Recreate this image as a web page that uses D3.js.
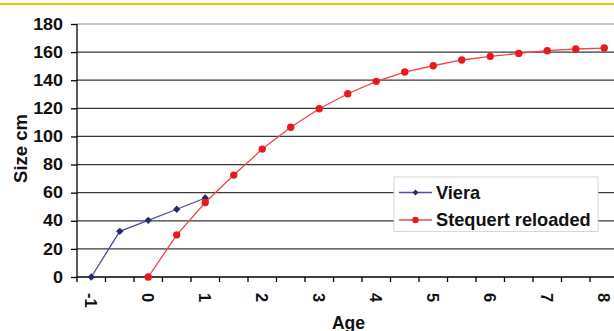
<!DOCTYPE html>
<html>
<head>
<meta charset="utf-8">
<script src="https://cdn.jsdelivr.net/npm/d3@7"></script>
<style>
  html, body { margin: 0; padding: 0; background: #fff; }
  svg { display: block; font-family: "Liberation Sans", Arial, sans-serif; }
</style>
</head>
<body>
<svg id="chart" width="614" height="331"></svg>
<script>
// ---- data ----
const categories = ["-1","-0.5","0","0.5","1","1.5","2","2.5","3","3.5","4","4.5","5","5.5","6","6.5","7","7.5","8"];
const xTickLabels = ["-1","0","1","2","3","4","5","6","7","8"];
const yTicks = [0,20,40,60,80,100,120,140,160,180];
const vieraAges = ["-1","-0.5","0","0.5","1"];
const vieraValues = [0, 32.5, 40.3, 48.2, 56.2];
const stequertAges = ["0","0.5","1","1.5","2","2.5","3","3.5","4","4.5","5","5.5","6","6.5","7","7.5","8"];
const stequertValues = [0, 30, 53, 72.5, 91, 106.5, 119.7, 130.4, 139.2, 145.8, 150.3, 154.4, 157, 159.1, 161, 162.2, 162.9];
const seriesNames = ["Viera", "Stequert reloaded"];

// ---- layout ----
const svg = d3.select("#chart");
const W = 614, H = 331;
const plotLeft = 77, plotTop = 24, plotBottom = 277;
const band = 28.5;

const x = d3.scaleBand().domain(categories).range([plotLeft, plotLeft + band * categories.length]).padding(0);
const y = d3.scaleLinear().domain([0, 180]).range([plotBottom, plotTop]);
const cx = c => x(c) + x.bandwidth() / 2;
const diamondType = d3.symbolDiamond2 || d3.symbolSquare;

// yellow top rule
svg.append("line").attr("x1", 0).attr("x2", W).attr("y1", 4).attr("y2", 4)
  .attr("stroke", "#f7c600").attr("stroke-width", 2);

// gridlines
svg.append("g").selectAll("line").data(yTicks.filter(d => d > 0)).join("line")
  .attr("x1", plotLeft).attr("x2", W)
  .attr("y1", d => y(d)).attr("y2", d => y(d))
  .attr("stroke", d => d === 180 ? "#b0b0b0" : "#3a3a3a")
  .attr("stroke-width", 1.3);

// y axis
const yAxis = svg.append("g").attr("transform", `translate(${plotLeft},0)`)
  .call(d3.axisLeft(y).tickValues(yTicks).tickSize(6).tickPadding(0));
yAxis.select(".domain").attr("stroke", "#000").attr("stroke-width", 1.3).attr("d", `M0,${plotTop}V${plotBottom}`);
yAxis.selectAll(".tick line").attr("stroke", "#000").attr("stroke-width", 1.3);
yAxis.selectAll(".tick text")
  .attr("x", null)
  .attr("transform", "translate(-14,0) scale(1.12,1)")
  .attr("font-size", 16).attr("font-weight", "bold").attr("fill", "#111")
  .attr("font-family", "Liberation Sans, Arial, sans-serif");

// x axis line + ticks at category boundaries
const xg = svg.append("g");
xg.append("line").attr("x1", plotLeft).attr("x2", W).attr("y1", plotBottom).attr("y2", plotBottom)
  .attr("stroke", "#000").attr("stroke-width", 1.3);
xg.selectAll("line.tk").data(categories).join("line").attr("class", "tk")
  .attr("x1", d => x(d)).attr("x2", d => x(d))
  .attr("y1", plotBottom).attr("y2", plotBottom + 5)
  .attr("stroke", "#000").attr("stroke-width", 1.3);
xg.selectAll("text").data(xTickLabels).join("text")
  .attr("transform", d => `translate(${cx(d)},${plotBottom + 16}) rotate(90)`)
  .attr("dy", "0.35em")
  .attr("text-anchor", "start")
  .attr("font-size", 16.5).attr("font-weight", "bold").attr("fill", "#111")
  .text(d => d);

// axis titles
svg.append("text").attr("transform", `translate(27,148.5) rotate(-90)`)
  .attr("text-anchor", "middle").attr("font-size", 18.5).attr("font-weight", "bold").attr("fill", "#111")
  .text("Size cm");
svg.append("text").attr("x", 348.5).attr("y", 328.5)
  .attr("text-anchor", "middle").attr("font-size", 17.5).attr("font-weight", "bold").attr("fill", "#111")
  .text("Age");

// series
const line = d3.line().x(d => cx(d[0])).y(d => y(d[1]));
const vData = vieraAges.map((a, i) => [a, vieraValues[i]]);
const sData = stequertAges.map((a, i) => [a, stequertValues[i]]);

svg.append("path").datum(vData).attr("d", line).attr("fill", "none")
  .attr("stroke", "#4a4f96").attr("stroke-width", 1.3);
svg.append("path").datum(sData).attr("d", line).attr("fill", "none")
  .attr("stroke", "#f24545").attr("stroke-width", 1.3);

svg.append("g").selectAll("path").data(vData).join("path")
  .attr("transform", d => `translate(${cx(d[0])},${y(d[1])})`)
  .attr("d", d3.symbol().type(diamondType).size(34)).attr("fill", "#232a6e");
svg.append("g").selectAll("circle").data(sData).join("circle")
  .attr("cx", d => cx(d[0])).attr("cy", d => y(d[1])).attr("r", 3.7).attr("fill", "#e8191c");

// legend
const lg = svg.append("g");
lg.append("rect").attr("x", 394).attr("y", 177).attr("width", 204).attr("height", 54.5)
  .attr("fill", "#fff").attr("stroke", "#d8d8d8").attr("stroke-width", 1);
const legendItems = [
  {name: seriesNames[0], line: "#4a4f96", mark: "#232a6e", type: "diamond", yy: 192.5},
  {name: seriesNames[1], line: "#f24545", mark: "#e8191c", type: "circle", yy: 220}
];
legendItems.forEach(it => {
  lg.append("line").attr("x1", 399).attr("x2", 432).attr("y1", it.yy).attr("y2", it.yy)
    .attr("stroke", it.line).attr("stroke-width", 1.3);
  if (it.type === "diamond") {
    lg.append("path").attr("transform", `translate(415.5,${it.yy})`)
      .attr("d", d3.symbol().type(diamondType).size(22)).attr("fill", it.mark);
  } else {
    lg.append("circle").attr("cx", 415.5).attr("cy", it.yy).attr("r", 3.2).attr("fill", it.mark);
  }
  lg.append("text").attr("x", 436).attr("y", it.yy).attr("dy", "0.35em")
    .attr("font-size", 18.2).attr("font-weight", "bold").attr("fill", "#111").text(it.name);
});
</script>
</body>
</html>
